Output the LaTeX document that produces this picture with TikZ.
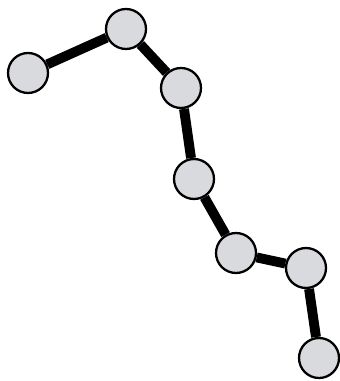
\documentclass[tikz,border=0pt]{standalone}
\usepackage{tikz}
\definecolor{BeadGrey}{HTML}{D8DADD}

\begin{document}
\begin{tikzpicture}[
  x=0.02cm,y=-0.02cm,
  bead/.style={circle,draw=black,line width=1.3pt,fill=BeadGrey,minimum size=0.8cm,inner sep=0pt},
  link/.style={draw=black,line width=5.6pt},
]
\useasboundingbox (0,0) rectangle (340,381);
\node[bead] (b1) at (28,73) {};
\node[bead] (b2) at (126,29) {};
\node[bead] (b3) at (181,88) {};
\node[bead] (b4) at (194,179) {};
\node[bead] (b5) at (236,253) {};
\node[bead] (b6) at (306,268) {};
\node[bead] (b7) at (319,358) {};
\draw[link] (b1) -- (b2);
\draw[link] (b2) -- (b3);
\draw[link] (b3) -- (b4);
\draw[link] (b4) -- (b5);
\draw[link] (b5) -- (b6);
\draw[link] (b6) -- (b7);
\end{tikzpicture}
\end{document}
